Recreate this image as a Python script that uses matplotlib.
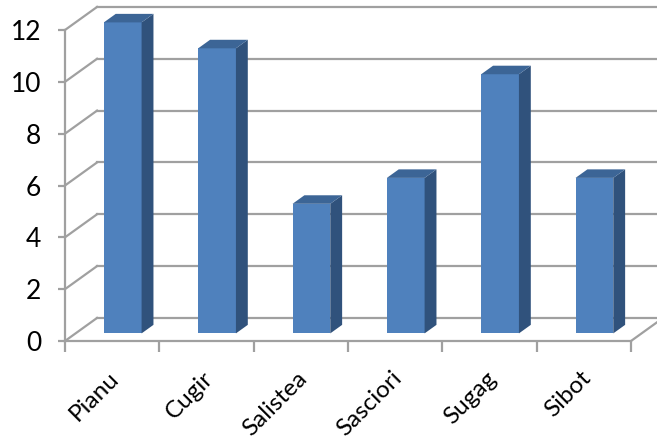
import matplotlib
matplotlib.use("Agg")
import matplotlib.pyplot as plt
from matplotlib.patches import Polygon
import matplotlib.transforms as mtransforms

# data
towns = ["Pianu", "Cugir", "Salistea", "Sasciori", "Sugag", "Sibot"]
counts = [12, 11, 5, 6, 10, 6]
y_ticks = [0, 2, 4, 6, 8, 10, 12]

# fake 3D look (Excel style)
wall_dx, wall_dy = 0.34, 0.89      # depth offset of back wall, in data units
d_front, d_back = 0.33, 0.70       # bar position inside the depth
bar_w = 0.40
c_front, c_side, c_top = "#4F81BD", "#30527C", "#3C6596"
grid_c = "#A0A0A0"

plt.rcParams["font.family"] = ["Lato", "DejaVu Sans"]

fig = plt.figure(figsize=(6.57, 4.42), dpi=100)
ax = fig.add_axes([0.0989, 0.2285, 0.8615, 0.7036])
ax.set_xlim(-0.5, len(towns) - 0.5)
ax.set_ylim(0, 12)
x0, x1 = ax.get_xlim()

# walls and grid
for v in y_ticks:
    ax.plot([x0 + wall_dx, x1 + wall_dx], [v + wall_dy, v + wall_dy],
            color=grid_c, lw=1.6, zorder=1, clip_on=False)
    ax.plot([x0, x0 + wall_dx], [v, v + wall_dy],
            color=grid_c, lw=1.6, zorder=1, clip_on=False)
ax.plot([x1, x1 + wall_dx], [0, wall_dy], color=grid_c, lw=1.6, zorder=1,
        clip_on=False)

# bars
for i, v in enumerate(counts):
    xl = i - bar_w / 2 + d_front * wall_dx
    xr = xl + bar_w
    b0 = d_front * wall_dy
    t0 = v + b0
    ddx = (d_back - d_front) * wall_dx
    ddy = (d_back - d_front) * wall_dy
    ax.bar(xl, v, width=bar_w, bottom=b0, align="edge", color=c_front,
           edgecolor="none", zorder=3, clip_on=False)
    ax.add_patch(Polygon([(xr, b0), (xr, t0), (xr + ddx, t0 + ddy), (xr + ddx, b0 + ddy)],
                         closed=True, facecolor=c_side, edgecolor="none", zorder=3,
                         clip_on=False))
    ax.add_patch(Polygon([(xl, t0), (xr, t0), (xr + ddx, t0 + ddy), (xl + ddx, t0 + ddy)],
                         closed=True, facecolor=c_top, edgecolor="none", zorder=3,
                         clip_on=False))

# axes styling
for s in ["top", "right"]:
    ax.spines[s].set_visible(False)
for s in ["left", "bottom"]:
    ax.spines[s].set_color(grid_c)
    ax.spines[s].set_linewidth(1.6)
ax.patch.set_alpha(0)

ax.set_yticks(y_ticks)
ax.tick_params(axis="y", length=5, width=1.6, color=grid_c, labelsize=19, pad=12)

ax.set_xticks([k - 0.5 for k in range(len(towns) + 1)])
ax.set_xticklabels([])
ax.set_xticks(range(len(towns)), minor=True)
ax.set_xticklabels(towns, minor=True, rotation=45, ha="right", rotation_mode="anchor")
ax.tick_params(axis="x", which="major", length=8, width=1.6, color=grid_c, direction="out")
ax.tick_params(axis="x", which="minor", length=0, labelsize=17.5, pad=19)
offset = mtransforms.ScaledTranslation(-4 / 100, 0, fig.dpi_scale_trans)
for lab in ax.get_xticklabels(minor=True):
    lab.set_transform(lab.get_transform() + offset)

fig.savefig("out.png", dpi=100)
